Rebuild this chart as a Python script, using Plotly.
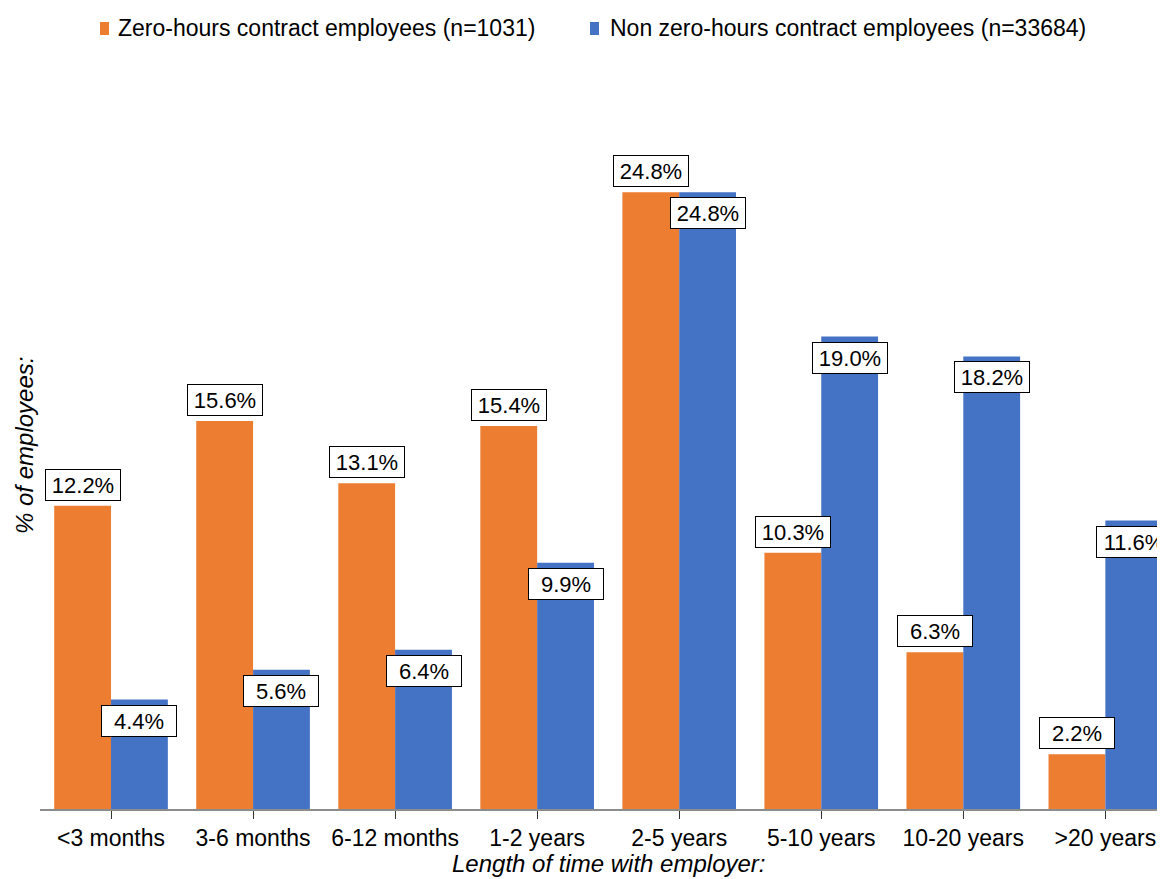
import plotly.graph_objects as go

categories = ["<3 months", "3-6 months", "6-12 months", "1-2 years", "2-5 years",
              "5-10 years", "10-20 years", ">20 years"]
zero_hours = [12.2, 15.6, 13.1, 15.4, 24.8, 10.3, 6.3, 2.2]
non_zero_hours = [4.4, 5.6, 6.4, 9.9, 24.8, 19.0, 18.2, 11.6]
series_names = ["Zero-hours contract employees (n=1031)",
                "Non zero-hours contract employees (n=33684)"]
colors = ["#ED7D31", "#4472C4"]

FONT = "Liberation Sans, Arial, sans-serif"

W, H = 1157, 871
ML, MR, MT, MB = 32, 0, 55, 70
PW, PH = W - ML - MR, H - MT - MB


def px(xpix):
    return (xpix - ML) / PW


def py(ypix):
    return (H - MB - ypix) / PH


fig = go.Figure()
xs = list(range(len(categories)))
fig.add_bar(x=xs, y=zero_hours, name=series_names[0],
            marker=dict(color=colors[0], line=dict(width=0)))
fig.add_bar(x=xs, y=non_zero_hours, name=series_names[1],
            marker=dict(color=colors[1], line=dict(width=0)))

label_style = dict(showarrow=False, xref="x", yref="y",
                   font=dict(family=FONT, size=22, color="black"),
                   bgcolor="white", bordercolor="black", borderwidth=1, borderpad=1,
                   width=72, height=28)
annotations = []
for i, v in enumerate(zero_hours):
    annotations.append(dict(x=i - 0.2, y=v, text=f"{v:.1f}%", yanchor="bottom", yshift=5,
                            **label_style))
for i, v in enumerate(non_zero_hours):
    annotations.append(dict(x=i + 0.2, y=v, text=f"{v:.1f}%", yanchor="top", yshift=-5,
                            **label_style))

# axis titles
annotations.append(dict(text="<i>Length of time with employer:</i>", xref="paper", yref="paper",
                        x=px(601), y=py(855), xanchor="center", yanchor="middle",
                        showarrow=False, font=dict(family=FONT, size=24, color="black")))
annotations.append(dict(text="<i>% of employees:</i>", xref="paper", yref="paper",
                        x=px(16), y=py(438), xanchor="center", yanchor="middle",
                        textangle=-90, showarrow=False,
                        font=dict(family=FONT, size=24, color="black")))

# custom legend
shapes = []
legend_items = [(92, 108), (582, 600)]
for (mx, tx), name, col in zip(legend_items, series_names, colors):
    shapes.append(dict(type="rect", xref="paper", yref="paper",
                       x0=px(mx), x1=px(mx + 9), y0=py(27), y1=py(14),
                       fillcolor=col, line=dict(width=0)))
    annotations.append(dict(text=name, xref="paper", yref="paper", x=px(tx), y=py(20),
                            xanchor="left", yanchor="middle", showarrow=False,
                            font=dict(family=FONT, size=23, color="black")))

fig.update_layout(
    width=W, height=H,
    margin=dict(l=ML, r=MR, t=MT, b=MB, autoexpand=False),
    paper_bgcolor="white", plot_bgcolor="white",
    barmode="group", bargap=0.2, bargroupgap=0,
    font=dict(family=FONT, size=22, color="black"),
    showlegend=False,
    annotations=annotations,
    shapes=shapes,
    xaxis=dict(tickmode="array", tickvals=xs, ticktext=categories,
               range=[-0.5, 7.42], showline=True, linecolor="#8c8c8c", linewidth=1.5,
               ticks="outside", tickson="boundaries", ticklen=8, tickcolor="#333333",
               tickwidth=1, showgrid=False, zeroline=False, automargin=False,
               tickfont=dict(family=FONT, size=23, color="black")),
    yaxis=dict(range=[0, 30], showticklabels=False, showgrid=False, zeroline=False,
               showline=False, ticks="", automargin=False),
)

fig.write_html("out.html")
